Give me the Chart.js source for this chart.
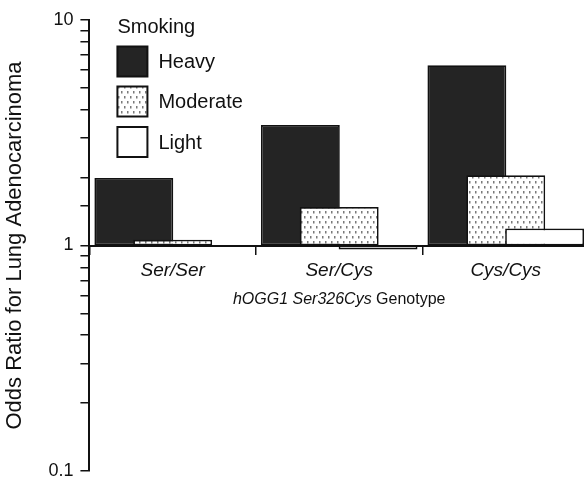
<!DOCTYPE html>
<html>
<head>
<meta charset="utf-8">
<script src="https://cdn.jsdelivr.net/npm/chart.js@4/dist/chart.umd.min.js"></script>
<style>
html,body{margin:0;padding:0;background:#fff;}
#wrap{width:584px;height:479px;}
</style>
</head>
<body>
<div id="wrap"><canvas id="c" width="584" height="479"></canvas></div>
<script>
// ---- data ----
const categories = ['Ser/Ser', 'Ser/Cys', 'Cys/Cys'];
const seriesNames = ['Heavy', 'Moderate', 'Light'];
const heavy = [1.99, 3.42, 6.3];
const moderate = [1.06, 1.48, 2.05];
const light = [1.0, 0.96, 1.19];
const yTickLabels = [0.1, 1, 10];
const baseline = 1;
const legendTitle = 'Smoking';
const yTitle = 'Odds Ratio for Lung Adenocarcinoma';
const xTitleItalic = 'hOGG1 Ser326Cys';
const xTitlePlain = 'Genotype';

const FONT = "'Liberation Sans', Arial, Helvetica, sans-serif";

// dotted pattern for "Moderate"
function makeDots() {
  const t = document.createElement('canvas');
  t.width = 6; t.height = 10;
  const g = t.getContext('2d');
  g.fillStyle = '#ffffff';
  g.fillRect(0, 0, 6, 10);
  g.fillStyle = '#7a7a7a';
  g.fillRect(1, 1, 1.5, 2.5);
  g.fillRect(4, 6, 1.5, 2.5);
  return document.getElementById('c').getContext('2d').createPattern(t, 'repeat');
}
const dots = makeDots();

const fills = ['#242424', dots, '#ffffff'];
const seriesValues = [heavy, moderate, light];

const datasets = seriesValues.map((vals, i) => ({
  label: seriesNames[i],
  data: vals.map(v => [baseline, v]),
  backgroundColor: fills[i],
  borderColor: '#111',
  borderWidth: 1.7,
  borderSkipped: false,
  categoryPercentage: 0.70,
  barPercentage: 2.03
}));

// the plot runs a few pixels past the right edge of the picture
const extendRight = {
  id: 'extendRight',
  afterLayout(chart) {
    const xs = chart.scales.x;
    xs.right += 5;
    xs.width += 5;
    xs.configure();
  }
};

// draw datasets in index order so later series sit on top
const drawOrder = {
  id: 'drawOrder',
  beforeDatasetsDraw(chart) {
    const metas = chart.getSortedVisibleDatasetMetas();
    for (const m of metas) m.controller.draw();
    return false;
  }
};

// legend box inside the plot, plus x-axis title with mixed styles
const annot = {
  id: 'annot',
  afterDraw(chart) {
    const ctx = chart.ctx;
    const a = chart.chartArea;
    ctx.save();
    ctx.fillStyle = '#111';
    ctx.textBaseline = 'middle';
    ctx.textAlign = 'left';
    ctx.font = '20px ' + FONT;
    const lx = a.left + 28;
    ctx.fillText(legendTitle, lx, 27);
    const rows = [61.5, 101.5, 142];
    chart.data.datasets.forEach((ds, i) => {
      const y = rows[i];
      ctx.fillStyle = ds.backgroundColor;
      ctx.fillRect(lx, y - 15, 30, 30);
      ctx.strokeStyle = '#111';
      ctx.lineWidth = 2;
      ctx.strokeRect(lx, y - 15, 30, 30);
      ctx.fillStyle = '#111';
      ctx.fillText(ds.label, lx + 41, y + 1);
    });
    // x title
    const xs = chart.scales.x;
    ctx.font = 'italic 16px ' + FONT;
    const w1 = ctx.measureText(xTitleItalic + ' ').width;
    ctx.font = '16px ' + FONT;
    const w2 = ctx.measureText(xTitlePlain).width;
    const cx = (xs.left + xs.right) / 2;
    let x0 = cx - (w1 + w2) / 2;
    const ty = 300;
    ctx.font = 'italic 16px ' + FONT;
    ctx.fillText(xTitleItalic + ' ', x0, ty);
    ctx.font = '16px ' + FONT;
    ctx.fillText(xTitlePlain, x0 + w1, ty);
    ctx.restore();
  }
};

new Chart(document.getElementById('c'), {
  type: 'bar',
  data: { labels: categories, datasets },
  options: {
    responsive: false,
    devicePixelRatio: 1,
    animation: false,
    layout: { padding: { left: 2, top: 20, right: 0, bottom: 8 } },
    plugins: { legend: { display: false }, tooltip: { enabled: false } },
    scales: {
      x: {
        type: 'category',
        position: { y: 1 },
        offset: true,
        border: { color: '#111', width: 2 },
        grid: { offset: true, drawOnChartArea: false, tickLength: 8, color: '#111', lineWidth: 1.5 },
        ticks: { color: '#111', font: { family: FONT, size: 19, style: 'italic' }, padding: 6 }
      },
      y: {
        type: 'logarithmic',
        min: 0.1,
        max: 10,
        afterFit(scale) { scale.paddingTop = 0; scale.paddingBottom = 0; },
        border: { color: '#111', width: 2 },
        grid: { drawOnChartArea: false, tickLength: 9, color: '#111', lineWidth: 1.5 },
        ticks: {
          autoSkip: false,
          color: '#111',
          padding: 7,
          font: { family: FONT, size: 18 },
          callback: (v) => {
            const t = yTickLabels.find(k => Math.abs(v - k) < 1e-6 * k);
            return t === undefined ? '' : String(t);
          }
        },
        title: {
          display: true,
          text: yTitle,
          color: '#111',
          font: { family: FONT, size: 22 },
          padding: { top: 0, bottom: 13 }
        }
      }
    }
  },
  plugins: [extendRight, drawOrder, annot]
});
</script>
</body>
</html>
